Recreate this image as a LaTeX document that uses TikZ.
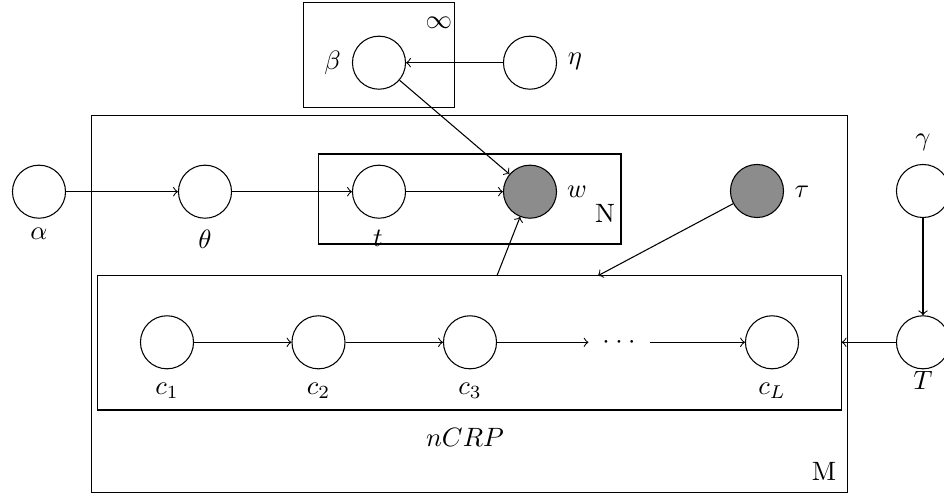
\documentclass[tikz,border=0pt]{standalone}
\usetikzlibrary{arrows}
\begin{document}
\begin{tikzpicture}[x=0.377pt,y=-0.377pt,>=to,
    var/.style={circle,draw,minimum size=20pt,inner sep=0pt},
    obs/.style={var,fill=black!45},
    plate/.style={draw},
    lbl/.style={inner sep=0pt,anchor=base},
    clbl/.style={inner sep=0pt}]
  \useasboundingbox (0,0) rectangle (944,496);
  \clip (0,0) rectangle (944,496);

  % plates
  \draw[plate] (303.3,2.7) rectangle (454.3,107.7);
  \draw[plate] (91.7,115.3) rectangle (847.5,492.7);
  \draw[plate] (318.3,154) rectangle (621,244);
  \draw[plate] (97.3,275.7) rectangle (841.7,410);

  % plate labels
  \node[clbl] (inf) at (439,23) {$\infty$};
  \node[lbl] (Nlab) at (605,223) {N};
  \node[lbl] (Mlab) at (824,481) {M};
  \node[lbl] (ncrp) at (465,447) {$nCRP$};

  % variables
  \node[var] (beta) at (379,62.7) {};
  \node[var] (eta) at (530,62.7) {};
  \node[var] (alpha) at (39,191.7) {};
  \node[var] (theta) at (205,191.7) {};
  \node[var] (t) at (379,191.7) {};
  \node[obs] (w) at (530,191.7) {};
  \node[obs] (tau) at (757,191) {};
  \node[var] (gamma) at (923,191) {};
  \node[var] (c1) at (167,342.3) {};
  \node[var] (c2) at (318.5,342.3) {};
  \node[var] (c3) at (470,342.3) {};
  \node[inner sep=0pt,minimum width=22.6pt,minimum height=10pt] (dots) at (619,342.3)
    {$\cdot$\hspace{2.1pt}$\cdot$\hspace{2.1pt}$\cdot$};
  \node[var] (cL) at (772,342.3) {};
  \node[var] (T) at (923,342.3) {};

  % variable labels
  \node[lbl] (beta-l) at (332.5,70) {$\beta$};
  \node[lbl] (eta-l) at (575,65) {$\eta$};
  \node[lbl] (alpha-l) at (39,240) {$\alpha$};
  \node[lbl] (theta-l) at (205,249) {$\theta$};
  \node[lbl] (t-l) at (378,246.5) {$t$};
  \node[lbl] (w-l) at (577,198) {$w$};
  \node[lbl] (tau-l) at (802,198) {$\tau$};
  \node[lbl] (gamma-l) at (923,146) {$\gamma$};
  \node[lbl] (c1-l) at (167,395) {$c_1$};
  \node[lbl] (c2-l) at (318.5,395) {$c_2$};
  \node[lbl] (c3-l) at (470,395) {$c_3$};
  \node[lbl] (cL-l) at (772,395) {$c_L$};
  \node[lbl] (T-l) at (923,390) {$T$};

  % connector end points on the nCRP plate
  \coordinate (ncrp-top-w) at (497,275.7);
  \coordinate (ncrp-top-tau) at (598,275.7);
  \coordinate (ncrp-east) at (841.7,342.3);

  % edges
  \draw[->] (eta) -- (beta);
  \draw[->] (beta) -- (w);
  \draw[->] (alpha) -- (theta);
  \draw[->] (theta) -- (t);
  \draw[->] (t) -- (w);
  \draw[->] (ncrp-top-w) -- (w);
  \draw[->] (tau) -- (ncrp-top-tau);
  \draw[->] (gamma) -- (T);
  \draw[->] (T) -- (ncrp-east);
  \draw[->] (c1) -- (c2);
  \draw[->] (c2) -- (c3);
  \draw[->] (c3) -- (dots);
  \draw[->] (dots) -- (cL);
\end{tikzpicture}
\end{document}
